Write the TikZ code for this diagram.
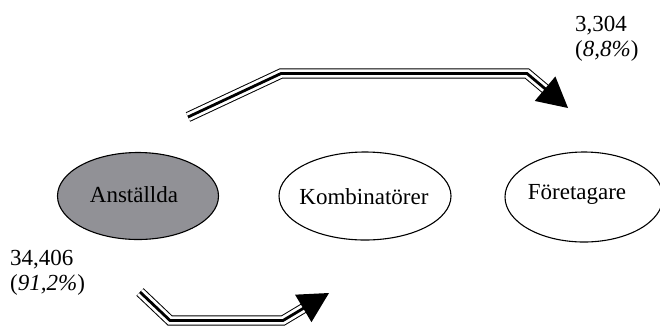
\documentclass[tikz,border=0pt]{standalone}
\usepackage{fontspec}
\setmainfont{Liberation Serif}
\usetikzlibrary{shapes.geometric,calc}
\definecolor{fillgray}{RGB}{145,145,150}
\begin{document}
\begin{tikzpicture}[x=1pt,y=-1pt,
  oval/.style={ellipse, draw=black, line width=1.1pt, inner sep=0pt},
  txt/.style={font=\fontsize{23}{27}\selectfont, inner sep=0pt},
  triple/.style={line width=2.8pt, line join=miter,
    preaction={draw=white, line width=8.4pt, line join=miter,
      preaction={draw=black, line width=10.4pt, line join=miter}}}
]
\useasboundingbox (0,0) rectangle (660,325);
% ellipses
\node[oval, fill=fillgray, minimum width=161pt, minimum height=87pt] (ans) at (138,196) {};
\node[oval, minimum width=172pt, minimum height=88pt] (kom) at (365,196) {};
\node[oval, minimum width=158pt, minimum height=90pt] (for) at (584,197) {};
\node[txt, anchor=base] (anstxt) at (134,202) {Anställda};
\node[txt, anchor=base] (komtxt) at (364,204) {Kombinatörer};
\node[txt, anchor=base] (fortxt) at (577,199) {Företagare};
% labels
\node[txt, anchor=base west] (n1) at (575,31.5) {3,304};
\node[txt, anchor=base west] (p1) at (575,56.5) {(\textit{8,8\%})};
\node[txt, anchor=base west] (n2) at (10,265) {34,406};
\node[txt, anchor=base west] (p2) at (10,290) {(\textit{91,2\%})};
% top arrow
\coordinate (a1) at (188,117);
\coordinate (a2) at (281,73.5);
\coordinate (a3) at (527,73.5);
\coordinate (at) at (568,108);
\coordinate (ab) at ($(at)!30pt!(a3)$);
\coordinate (ae) at ($(at)!22pt!(a3)$);
\draw[triple] (a1) -- (a2) -- (a3) -- (ae);
\fill (at) -- ($(ab)!16pt!90:(at)$) -- ($(ab)!16pt!-90:(at)$) -- cycle;
% bottom arrow
\coordinate (b1) at (140,292);
\coordinate (b2) at (170,320.5);
\coordinate (b3) at (283,320.5);
\coordinate (bt) at (329,293);
\coordinate (bb) at ($(bt)!30pt!(b3)$);
\coordinate (be) at ($(bt)!22pt!(b3)$);
\draw[triple] (b1) -- (b2) -- (b3) -- (be);
\fill (bt) -- ($(bb)!16pt!90:(bt)$) -- ($(bb)!16pt!-90:(bt)$) -- cycle;
\end{tikzpicture}
\end{document}
